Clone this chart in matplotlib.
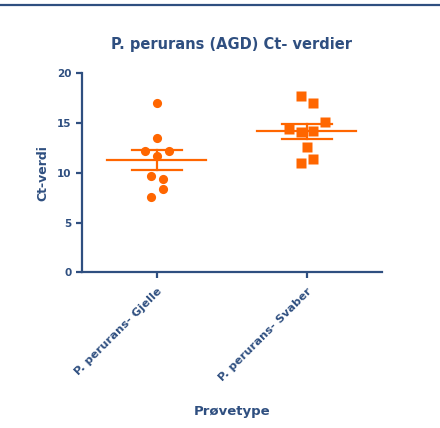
import numpy as np
import matplotlib
matplotlib.use("Agg")
import matplotlib.pyplot as plt
from matplotlib.lines import Line2D

# data (Ct values)
categories = ["P. perurans- Gjelle", "P. perurans- Svaber"]
gjelle = [17.0, 13.47, 12.19, 11.69, 12.19, 9.65, 9.35, 7.57, 8.34]
svaber = [17.75, 17.01, 14.40, 14.07, 14.20, 15.07, 12.56, 10.95, 11.39]
yticks = [0, 5, 10, 15, 20]

navy = "#2F4F80"
orange = "#FF6600"
plt.rcParams["font.family"] = ["DejaVu Sans"]
plt.rcParams["font.weight"] = "bold"


def rows_offsets(vals, row_h=1.05, step=0.08):
    """group close values into rows, then centre each row on the category"""
    order = sorted(range(len(vals)), key=lambda i: -vals[i])
    rows = []
    for i in order:
        if rows and vals[rows[-1][0]] - vals[i] <= row_h:
            rows[-1].append(i)
        else:
            rows.append([i])
    off = np.zeros(len(vals))
    for r in rows:
        r = sorted(r)
        n = len(r)
        for k, i in enumerate(r):
            off[i] = (k - (n - 1) / 2) * step
    return off


fig = plt.figure(figsize=(4.4, 4.28), dpi=100)
ax = fig.add_axes([0.1857, 0.3638, 0.6825, 0.4649])

for pos, (vals, mk, ms) in enumerate([(gjelle, "o", 6.6), (svaber, "s", 6.8)]):
    vals = np.array(vals)
    x = pos + rows_offsets(vals)
    ax.plot(x, vals, mk, color=orange, ms=ms, mec="none", zorder=3)
    m = vals.mean()
    sem = vals.std(ddof=1) / np.sqrt(len(vals))
    ax.plot([pos - 0.33, pos + 0.33], [m, m], color=orange, lw=1.6, zorder=4)
    ax.plot([pos - 0.165, pos + 0.165], [m + sem, m + sem], color=orange, lw=1.6, zorder=4)
    ax.plot([pos - 0.165, pos + 0.165], [m - sem, m - sem], color=orange, lw=1.6, zorder=4)
    ax.plot([pos, pos], [m - sem, m + sem], color=orange, lw=1.6, zorder=4)

ax.set_xlim(-0.5, 1.5)
ax.set_ylim(0, 20)
ax.set_yticks(yticks)
ax.set_xticks(range(len(categories)))
ax.set_xticklabels(categories, rotation=45, ha="right", rotation_mode="anchor",
                   fontsize=8.2, fontweight="bold", color=navy)
for lab in ax.get_yticklabels():
    lab.set_fontsize(7.5)
    lab.set_fontweight("bold")
    lab.set_color(navy)

for s in ["top", "right"]:
    ax.spines[s].set_visible(False)
for s in ["left", "bottom"]:
    ax.spines[s].set_color(navy)
    ax.spines[s].set_linewidth(1.6)
ax.tick_params(axis="both", colors=navy, width=1.6, length=4, direction="out")
ax.tick_params(axis="x", pad=6)

ax.set_ylabel("Ct-verdi", fontsize=9, fontweight="bold", color=navy, labelpad=5)
ax.set_xlabel("Prøvetype", fontsize=9.5, fontweight="bold", color=navy, labelpad=16)
fig.text(0.527, 1 - 45 / 428, "P. perurans (AGD) Ct- verdier", ha="center", va="center",
         fontsize=10.5, fontweight="bold", color=navy)

# rule across the top of the page
fig.add_artist(Line2D([0, 1], [1 - 5 / 428, 1 - 5 / 428], color=navy, lw=1.6,
                      transform=fig.transFigure))

fig.savefig("out.png", dpi=100)
